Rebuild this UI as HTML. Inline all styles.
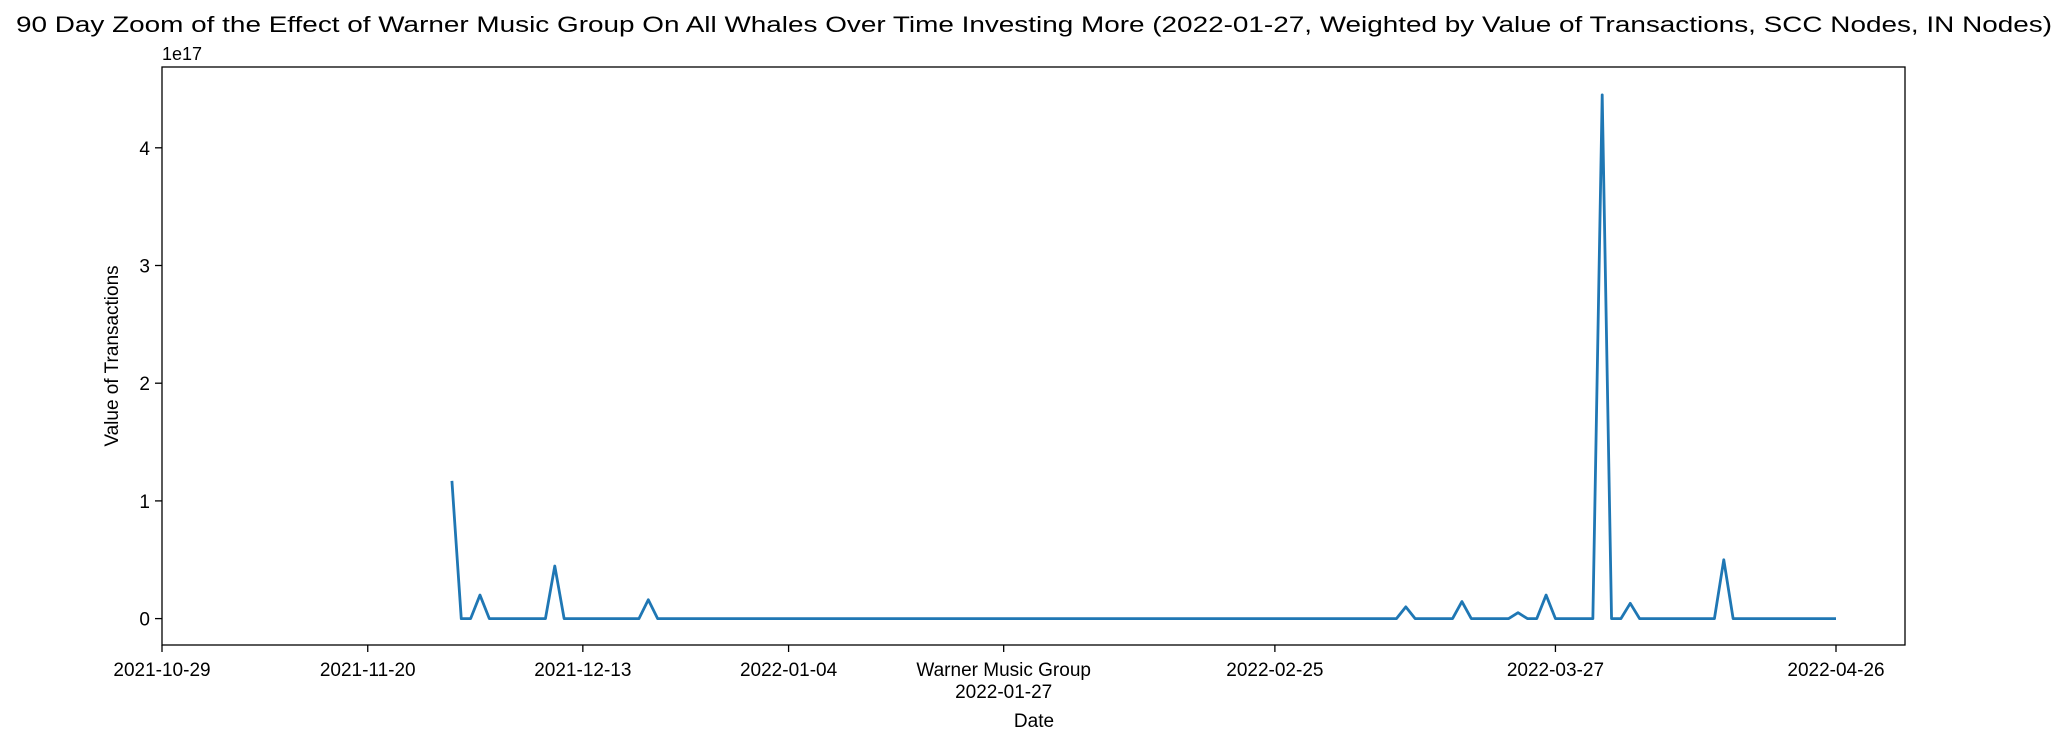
<!DOCTYPE html>
<html><head><meta charset="utf-8"><style>
html,body{margin:0;padding:0;background:#fff;}
svg{display:block;font-family:"Liberation Sans","DejaVu Sans",sans-serif;}
</style></head><body>
<svg id="chart" width="2068" height="747" viewBox="0 0 2068 747">
<text x="1034" y="32" text-anchor="middle" font-size="22" textLength="2036" lengthAdjust="spacingAndGlyphs">90 Day Zoom of the Effect of Warner Music Group On All Whales Over Time Investing More (2022-01-27, Weighted by Value of Transactions, SCC Nodes, IN Nodes)</text>
<g id="yticks"></g><g id="xticks"></g>
<polyline id="series" fill="none" stroke="#1f77b4" stroke-width="2.8" stroke-linejoin="round"/>
<rect x="162" y="67" width="1743" height="578" fill="none" stroke="#000" stroke-width="1.3"/>
<text x="162" y="60" font-size="18">1e17</text>
<text transform="translate(118,356) rotate(-90)" text-anchor="middle" font-size="19">Value of Transactions</text>
<text x="1034" y="727" text-anchor="middle" font-size="19">Date</text>
</svg>
<script>
const firstDay = 31;
const lastDay = 179;
const spikeDays = [31,34,42,52,133,139,145,148,154,157,167];
const spikeValues = [1.17,0.2,0.447,0.16,0.1,0.145,0.05,0.2,4.45,0.13,0.5];
const xTickDays = [0,22,45,67,90,119,149,179];
const xTickLabels = ["2021-10-29","2021-11-20","2021-12-13","2022-01-04","Warner Music Group\n2022-01-27","2022-02-25","2022-03-27","2022-04-26"];
const yTicks = [0,1,2,3,4];
const NS="http://www.w3.org/2000/svg";
const xs = d => 162 + d*(1674/179);
const ys = v => 618.6 - v*117.7;
const pts=[];
for(let d=firstDay; d<=lastDay; d++){
  const k=spikeDays.indexOf(d);
  const v=k>=0?spikeValues[k]:0;
  pts.push(xs(d).toFixed(2)+","+ys(v).toFixed(2));
}
document.getElementById("series").setAttribute("points", pts.join(" "));
const yg=document.getElementById("yticks");
yTicks.forEach(t=>{
  const l=document.createElementNS(NS,"line");
  l.setAttribute("x1",155);l.setAttribute("x2",162);l.setAttribute("y1",ys(t));l.setAttribute("y2",ys(t));l.setAttribute("stroke","#000");l.setAttribute("stroke-width","1.3");
  
  
  yg.appendChild(l);
  const tx=document.createElementNS(NS,"text");
  tx.setAttribute("x",150);tx.setAttribute("y",ys(t)+7);tx.setAttribute("text-anchor","end");tx.setAttribute("font-size","19");tx.textContent=t;
  
  
  yg.appendChild(tx);
});
const xg=document.getElementById("xticks");
xTickDays.forEach((d,i)=>{
  const l=document.createElementNS(NS,"line");
  l.setAttribute("x1",xs(d));l.setAttribute("x2",xs(d));l.setAttribute("y1",645);l.setAttribute("y2",652);l.setAttribute("stroke","#000");l.setAttribute("stroke-width","1.3");
  
  
  xg.appendChild(l);
  xTickLabels[i].split("\n").forEach((s,j)=>{
    const tx=document.createElementNS(NS,"text");
    tx.setAttribute("x",xs(d));tx.setAttribute("y",676+j*22);tx.setAttribute("text-anchor","middle");tx.setAttribute("font-size","19");tx.textContent=s;
    
    
    xg.appendChild(tx);
  });
});
</script>
</body></html>
